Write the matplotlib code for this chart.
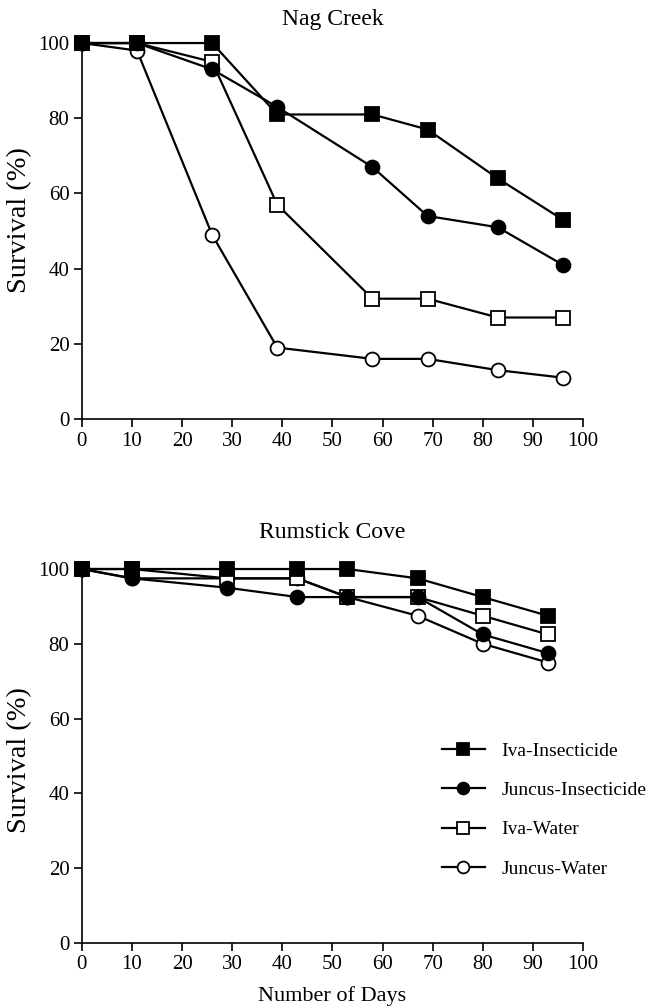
import numpy as np
import matplotlib
matplotlib.use('Agg')
import matplotlib.pyplot as plt

plt.rcParams['font.family'] = ['Liberation Serif', 'DejaVu Serif']

# ── Data ───────────────────────────────────────────────────────────────────
series_names = ['Iva-Insecticide', 'Juncus-Insecticide', 'Iva-Water', 'Juncus-Water']

nag_days = [0, 11, 26, 39, 58, 69, 83, 96]
nag_iva_ins = [100, 100, 100, 81, 81, 77, 64, 53]
nag_jun_ins = [100, 100, 93, 83, 67, 54, 51, 41]
nag_iva_wat = [100, 100, 95, 57, 32, 32, 27, 27]
nag_jun_wat = [100, 98, 49, 19, 16, 16, 13, 11]

rum_days = [0, 10, 29, 43, 53, 67, 80, 93]
rum_iva_ins = [100, 100, 100, 100, 100, 97.5, 92.5, 87.5]
rum_jun_ins = [100, 97.5, 95, 92.5, 92.5, 92.5, 82.5, 77.5]
rum_iva_wat = [100, 100, 97.5, 97.5, 92.5, 92.5, 87.5, 82.5]
rum_jun_wat = [100, 97.5, 97.5, 97.5, 92.5, 87.5, 80, 75]

x_ticks = list(range(0, 101, 10))
y_ticks = list(range(0, 101, 20))

styles = [
    dict(marker='s', mfc='black', ms=10.5),
    dict(marker='o', mfc='black', ms=10),
    dict(marker='s', mfc='white', ms=10),
    dict(marker='o', mfc='white', ms=10),
]

fig = plt.figure(figsize=(6.55, 10.08), dpi=100)
ax1 = fig.add_axes([0.125, 0.5843, 0.765, 0.373])
ax2 = fig.add_axes([0.125, 0.0645, 0.765, 0.371])


def draw(ax, days, ys, title, title_pad, ylab_y):
    # draw back to front so filled markers sit on top
    for name, y, st in reversed(list(zip(series_names, ys, styles))):
        ax.plot(days, y, color='black', lw=1.6, mec='black', mew=1.3,
                label=name, clip_on=False, **st)
    ax.set_xlim(0, 100)
    ax.set_ylim(0, 100)
    ax.set_xticks(x_ticks)
    ax.set_yticks(y_ticks)
    ax.tick_params(direction='out', length=6, width=1.2, labelsize=15, pad=3)
    for s in ['top', 'right']:
        ax.spines[s].set_visible(False)
    for s in ['left', 'bottom']:
        ax.spines[s].set_linewidth(1.2)
    ax.set_ylabel('Survival (%)', fontsize=20.5, labelpad=1)
    ax.yaxis.set_label_coords(-0.1, ylab_y)
    ax.set_title(title, fontsize=17, pad=title_pad)


draw(ax1, nag_days, [nag_iva_ins, nag_jun_ins, nag_iva_wat, nag_jun_wat],
     'Nag Creek', 13, 0.529)
draw(ax2, rum_days, [rum_iva_ins, rum_jun_ins, rum_iva_wat, rum_jun_wat],
     'Rumstick Cove', 22, 0.489)
ax2.set_xlabel('Number of Days', fontsize=16, labelpad=8)

handles, labels = ax2.get_legend_handles_labels()
leg = ax2.legend(handles[::-1], labels[::-1], loc='upper left',
                 bbox_to_anchor=(0.684, 0.584), frameon=False, fontsize=14,
                 handlelength=2.2, labelspacing=1.12, handletextpad=0.85,
                 markerscale=0.85)

fig.savefig('out.png', dpi=100)
